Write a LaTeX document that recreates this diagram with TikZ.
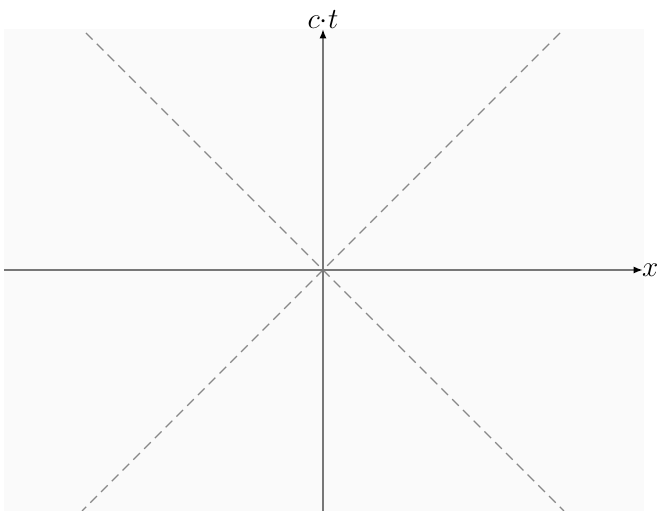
\documentclass[tikz,border=0pt]{standalone}
\usepackage{tikz}
\usetikzlibrary{arrows.meta}
\definecolor{axisgray}{HTML}{777777}
\definecolor{conegray}{HTML}{888888}
\definecolor{planebg}{HTML}{fafafa}

\begin{document}
\begin{tikzpicture}[x=0.03cm, y=0.03cm,
  axis/.style={-{Latex[length=8pt, width=6pt, black]}, line width=1.5pt, axisgray},
  cone/.style={dash pattern=on 8pt off 5pt, conegray, line width=1pt},
  lbl/.style={font=\fontsize{23}{25}\selectfont, inner sep=0pt}]
  \useasboundingbox (-323,-241) rectangle (335,270);
  \fill[planebg] (-319,-241) rectangle (321,241);
  \coordinate (o) at (0,0);
  \coordinate (xl) at (-319,0);
  \coordinate (xr) at (320,0);
  \coordinate (tb) at (0,-241);
  \coordinate (tt) at (0,241);
  \coordinate (ul) at (-237,237);
  \coordinate (lr) at (241,-241);
  \coordinate (ur) at (237,237);
  \coordinate (ll) at (-241,-241);
  \draw[cone] (ul) -- (lr);
  \draw[cone] (ur) -- (ll);
  \draw[axis] (xl) -- (xr);
  \draw[axis] (tb) -- (tt);
  \node[lbl, anchor=west, xshift=-1pt] (xlab) at (xr) {$x$};
  \node[lbl, anchor=south] (tlab) at (tt) {$c{\cdot}t$};
\end{tikzpicture}
\end{document}
